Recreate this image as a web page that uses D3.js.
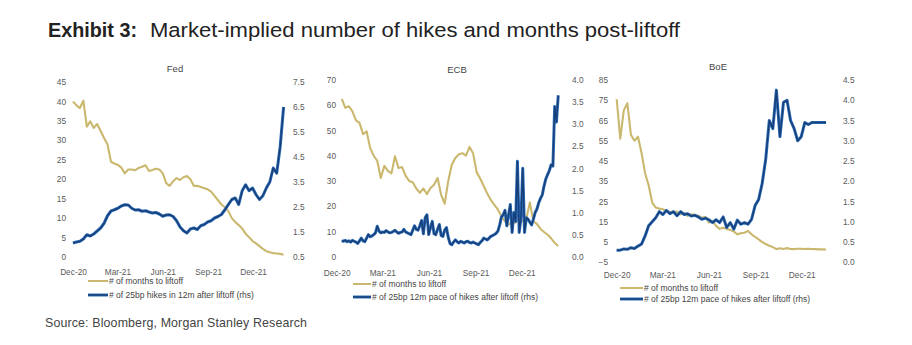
<!DOCTYPE html>
<html>
<head>
<meta charset="utf-8">
<script src="https://cdn.jsdelivr.net/npm/d3@7"></script>
<style>
  html, body { margin: 0; padding: 0; background: #fff; }
  svg { display: block; }
</style>
</head>
<body>
<svg id="chart" width="912" height="345"></svg>
<script>
// ---- Data ---------------------------------------------------------------
// Weekly observations (ECB hike pace is twice weekly), first date given per series.
const fedMonthsToLiftoff = [40.0,39.0,38.3,40.2,33.5,34.9,33.2,34.2,32.4,30.6,28.9,24.5,24.0,23.7,23.0,21.5,22.5,22.5,22.3,22.9,23.2,23.6,22.1,22.4,22.7,22.5,21.5,19.0,18.3,19.5,20.3,19.8,20.5,20.8,20.0,18.3,18.3,18.0,17.7,17.4,16.8,15.7,14.6,13.5,12.8,11.8,10.0,9.0,8.2,7.3,6.0,5.1,4.1,3.5,2.8,2.1,1.5,1.2,1.0,0.9,0.8,0.6];
const fedHikes12m = [1.06,1.10,1.13,1.22,1.39,1.34,1.42,1.54,1.66,1.85,2.15,2.34,2.39,2.45,2.54,2.59,2.58,2.45,2.38,2.39,2.33,2.35,2.30,2.26,2.28,2.22,2.13,2.18,2.19,2.12,1.95,1.70,1.55,1.46,1.62,1.66,1.60,1.75,1.80,1.90,1.95,2.06,2.12,2.20,2.39,2.60,2.80,2.86,2.60,3.15,3.39,3.15,3.26,3.00,2.80,2.95,3.26,3.50,4.06,3.85,4.90,6.50];

const ecbMonthsToLiftoff = [62.5,59,59.6,57.6,54,53,48.5,49.7,43,40,38,31.2,36,34,33,39.8,35.1,35.5,32,30,29.5,27,25.3,27,24.8,27.2,28.5,31.2,24.5,21,30,36.4,39.1,40.6,41,40,43.5,41,33.5,31,28,25,22.5,20.5,18.6,16,14,12.7,13.8,13.5,15.5,14,15,21.5,14,13,11,9.8,8.7,7.3,5.5,4.2];
const ecbHikePace12m = [0.36,0.35,0.37,0.34,0.36,0.33,0.37,0.35,0.33,0.30,0.36,0.42,0.36,0.34,0.42,0.50,0.45,0.47,0.50,0.54,0.69,0.58,0.54,0.56,0.55,0.59,0.56,0.54,0.55,0.57,0.60,0.56,0.53,0.55,0.56,0.62,0.56,0.54,0.52,0.50,0.60,0.70,0.62,0.60,0.70,0.82,0.52,0.88,0.95,0.50,0.66,0.80,0.52,0.50,0.62,0.73,0.48,0.46,0.60,0.66,0.44,0.30,0.27,0.33,0.38,0.34,0.31,0.35,0.33,0.31,0.34,0.35,0.32,0.31,0.33,0.31,0.29,0.27,0.32,0.36,0.42,0.40,0.38,0.42,0.46,0.48,0.50,0.53,0.58,0.72,0.90,0.95,1.05,0.70,0.95,1.18,0.55,1.00,0.80,2.16,0.55,0.88,2.00,0.55,0.88,0.85,0.78,0.72,0.85,1.00,1.08,1.22,1.32,1.40,1.60,1.76,1.86,1.95,2.08,2.05,3.40,3.05,3.65];

const boeMonthsToLiftoff = [75.5,56,70,73.5,58,55,57,49,39,33,24.5,22,21.5,21.2,20.3,19.8,19.8,20,18.7,19.3,17.9,18.7,18.5,18.0,17.0,17.5,14.6,15.5,13.0,11.5,12.1,11.5,11.0,10.2,8.8,9.4,9.6,10.5,8.8,7.6,6.3,5.0,4.0,3.2,2.5,1.5,1.9,1.6,2.0,1.6,1.5,1.7,1.7,1.6,1.7,1.6,1.5,1.4,1.4,1.3];
const boeHikePace12m = [0.30,0.30,0.33,0.32,0.36,0.34,0.40,0.45,0.65,0.90,1.00,1.10,1.25,1.18,1.28,1.20,1.25,1.15,1.25,1.18,1.20,1.14,1.16,1.12,1.06,1.09,1.05,0.98,1.05,0.98,1.12,0.86,0.98,0.82,1.04,0.94,0.98,0.94,1.06,1.40,1.55,1.95,2.55,3.50,3.30,4.25,3.10,3.95,4.00,3.50,3.30,3.00,3.10,3.45,3.40,3.45,3.45,3.45,3.45,3.45];

const seriesStart = { fed: "2020-12-01", ecb: "2020-12-11", boe: "2020-12-01" };
const stepHours = { weekly: 168, twiceWeekly: 84 };

const xTickDates = ["2020-12-01", "2021-03-01", "2021-06-01", "2021-09-01", "2021-12-01"];
const fedLeftTicks = [0, 5, 10, 15, 20, 25, 30, 35, 40, 45];
const fedRightTicks = [0.5, 1.5, 2.5, 3.5, 4.5, 5.5, 6.5, 7.5];
const ecbLeftTicks = [0, 10, 20, 30, 40, 50, 60, 70];
const ecbRightTicks = [0.0, 0.5, 1.0, 1.5, 2.0, 2.5, 3.0, 3.5, 4.0];
const boeLeftTicks = [-5, 5, 15, 25, 35, 45, 55, 65, 75, 85];
const boeRightTicks = [0.0, 0.5, 1.0, 1.5, 2.0, 2.5, 3.0, 3.5, 4.0, 4.5];

const legendMonths = "# of months to liftoff";
const fedLegendHikes = "# of 25bp hikes in 12m after liftoff (rhs)";
const paceLegendHikes = "# of 25bp 12m pace of hikes after liftoff (rhs)";

// ---- Styling -----------------------------------------------------------
const GOLD = "#cbb86f";
const BLUE_EDGE = "#2f6fb9";
const BLUE_CORE = "#173f7a";
const SANS = "'Liberation Sans', Arial, sans-serif";

const parse = d3.utcParse("%Y-%m-%d");
const svg = d3.select("#chart");
svg.append("rect").attr("width", 912).attr("height", 345).attr("fill", "#fff");

function toSeries(values, start, hours) {
  const t0 = parse(start);
  return values.map((v, i) => ({ date: d3.utcHour.offset(t0, i * hours), value: v }));
}

const panels = [
  {
    title: "Fed", titleX: 175, titleY: 72,
    xRange: [73, 290.5], xDomain: ["2020-12-01", "2022-02-15"],
    yRange: [257, 82], left: [0, 45], right: [0.5, 7.5],
    leftTicks: fedLeftTicks, rightTicks: fedRightTicks,
    leftX: 66, rightX: 293, xLabelY: 269,
    months: toSeries(fedMonthsToLiftoff, seriesStart.fed, stepHours.weekly),
    hikes: toSeries(fedHikes12m, seriesStart.fed, stepHours.weekly),
    legend: { x: 88, y1: 281, y2: 295, len: 20, hikes: fedLegendHikes }
  },
  {
    title: "ECB", titleX: 457, titleY: 73,
    xRange: [336.7, 562.8], xDomain: ["2020-12-01", "2022-02-20"],
    yRange: [256.7, 80], left: [0, 70], right: [0, 4],
    leftTicks: ecbLeftTicks, rightTicks: ecbRightTicks,
    leftX: 336, rightX: 572, xLabelY: 270.5,
    months: toSeries(ecbMonthsToLiftoff, seriesStart.ecb, stepHours.weekly),
    hikes: toSeries(ecbHikePace12m, seriesStart.ecb, stepHours.twiceWeekly),
    legend: { x: 353, y1: 284, y2: 297, len: 18, hikes: paceLegendHikes }
  },
  {
    title: "BoE", titleX: 718, titleY: 70,
    xRange: [616.7, 842.8], xDomain: ["2020-12-01", "2022-02-20"],
    yRange: [262.3, 80], left: [-5, 85], right: [0, 4.5],
    leftTicks: boeLeftTicks, rightTicks: boeRightTicks,
    leftX: 608, rightX: 843, xLabelY: 272,
    months: toSeries(boeMonthsToLiftoff, seriesStart.boe, stepHours.weekly),
    hikes: toSeries(boeHikePace12m, seriesStart.boe, stepHours.weekly),
    legend: { x: 620, y1: 288, y2: 299, len: 23, hikes: paceLegendHikes }
  }
];

panels.forEach(p => {
  const g = svg.append("g");
  const x = d3.scaleUtc().domain(p.xDomain.map(parse)).range(p.xRange);
  const yL = d3.scaleLinear().domain(p.left).range(p.yRange);
  const yR = d3.scaleLinear().domain(p.right).range(p.yRange);

  // panel title
  g.append("text")
    .attr("x", p.titleX).attr("y", p.titleY)
    .attr("text-anchor", "middle")
    .attr("font-family", SANS).attr("font-size", 9.5)
    .attr("fill", "#444").text(p.title);

  // axes (labels only, no axis lines)
  const axL = g.append("g").attr("transform", `translate(${p.leftX},0)`)
    .call(d3.axisLeft(yL).tickValues(p.leftTicks).tickSize(0).tickPadding(0).tickFormat(d3.format("d")));
  const axR = g.append("g").attr("transform", `translate(${p.rightX},0)`)
    .call(d3.axisRight(yR).tickValues(p.rightTicks).tickSize(0).tickPadding(0).tickFormat(d3.format(".1f")));
  const axX = g.append("g").attr("transform", `translate(0,${p.xLabelY})`)
    .call(d3.axisBottom(x).tickValues(xTickDates.map(parse)).tickSize(0).tickPadding(0).tickFormat(d3.utcFormat("%b-%y")));
  [axL, axR, axX].forEach(a => {
    a.select(".domain").remove();
    a.selectAll("text").attr("font-family", SANS).attr("font-size", 8.3).attr("fill", "#5a5a5a");
  });

  // lines
  const lineL = d3.line().x(d => x(d.date)).y(d => yL(d.value));
  const lineR = d3.line().x(d => x(d.date)).y(d => yR(d.value));
  g.append("path").datum(p.months).attr("d", lineL)
    .attr("fill", "none").attr("stroke", GOLD).attr("stroke-width", 2.1).attr("stroke-linejoin", "round");
  g.append("path").datum(p.hikes).attr("d", lineR)
    .attr("fill", "none").attr("stroke", BLUE_EDGE).attr("stroke-width", 3).attr("stroke-linejoin", "round");
  g.append("path").datum(p.hikes).attr("d", lineR)
    .attr("fill", "none").attr("stroke", BLUE_CORE).attr("stroke-width", 1.5).attr("stroke-linejoin", "round");

  // legend
  const L = p.legend;
  g.append("line").attr("x1", L.x).attr("x2", L.x + L.len).attr("y1", L.y1).attr("y2", L.y1)
    .attr("stroke", GOLD).attr("stroke-width", 2);
  g.append("line").attr("x1", L.x).attr("x2", L.x + L.len).attr("y1", L.y2).attr("y2", L.y2)
    .attr("stroke", BLUE_EDGE).attr("stroke-width", 3);
  g.append("line").attr("x1", L.x).attr("x2", L.x + L.len).attr("y1", L.y2).attr("y2", L.y2)
    .attr("stroke", BLUE_CORE).attr("stroke-width", 1.5);
  [[L.y1, legendMonths], [L.y2, L.hikes]].forEach(([yy, t]) => {
    g.append("text").attr("x", L.x + L.len + 1).attr("y", yy).attr("dy", "0.33em")
      .attr("font-family", SANS).attr("font-size", 8.5).attr("fill", "#444").text(t);
  });
});

// heading and source
svg.append("text").attr("x", 48).attr("y", 37)
  .attr("font-family", SANS).attr("font-size", 19.5).attr("font-weight", "bold").attr("fill", "#222")
  .attr("textLength", 89).attr("lengthAdjust", "spacingAndGlyphs")
  .text("Exhibit 3:");
svg.append("text").attr("x", 150).attr("y", 37)
  .attr("font-family", SANS).attr("font-size", 20.5).attr("fill", "#222")
  .attr("textLength", 530).attr("lengthAdjust", "spacingAndGlyphs")
  .text("Market-implied number of hikes and months post-liftoff");

svg.append("text").attr("x", 45).attr("y", 327)
  .attr("font-family", SANS).attr("font-size", 12.4).attr("fill", "#444")
  .attr("textLength", 262).attr("lengthAdjust", "spacing")
  .text("Source: Bloomberg, Morgan Stanley Research");
</script>
</body>
</html>
